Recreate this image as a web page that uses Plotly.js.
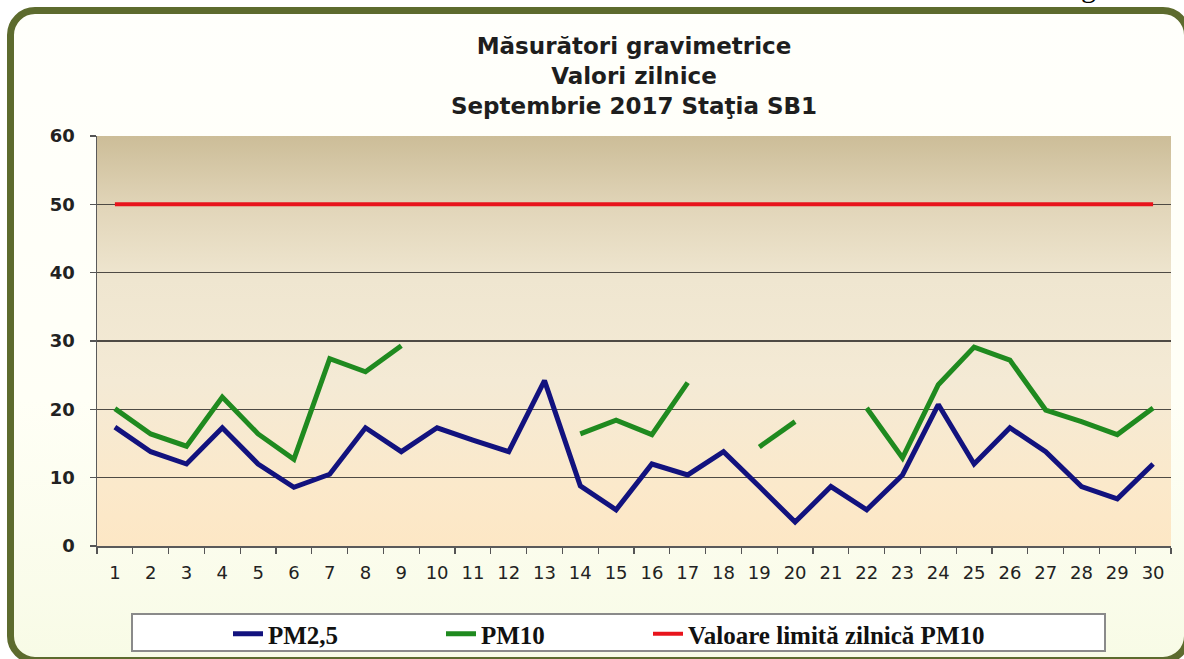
<!DOCTYPE html>
<html>
<head>
<meta charset="utf-8">
<script src="https://cdn.plot.ly/plotly-3.0.1.min.js"></script>
<style>
  html, body { margin: 0; padding: 0; background: #ffffff; overflow: hidden; }
  #frame {
    position: absolute; left: 7px; top: 7px; width: 1170px; height: 643px;
    border: 7px solid #5d6b2e; border-radius: 28px;
    background: linear-gradient(to bottom, #fffffb 0%, #fffff6 60%, #f8fbe6 100%);
  }
  #plotbg {
    position: absolute; left: 97px; top: 136px; width: 1074px; height: 410px;
    background: linear-gradient(to bottom, #ccbd98 0%, #e2d6ba 18%, #efe6d0 35%, #f4ead5 60%, #fbe9cb 85%, #fde7c5 100%);
  }
  #chart { position: absolute; left: 0; top: 0; width: 1184px; height: 659px; }
</style>
</head>
<body>
<div id="frame"></div>
<div id="plotbg"></div>
<div id="chart"></div>
<script>
const days = [1,2,3,4,5,6,7,8,9,10,11,12,13,14,15,16,17,18,19,20,21,22,23,24,25,26,27,28,29,30];
const pm25 = [17.4,13.8,12.0,17.3,12.0,8.6,10.5,17.3,13.8,17.3,15.5,13.8,24.2,8.8,5.3,12.0,10.4,13.8,8.7,3.5,8.7,5.3,10.4,20.7,12.0,17.3,13.8,8.7,6.9,12.0];
const pm10 = [20.1,16.4,14.6,21.8,16.4,12.7,27.4,25.5,29.3,null,null,null,null,16.4,18.4,16.3,23.9,null,14.5,18.2,null,20.2,12.9,23.6,29.1,27.2,19.9,18.2,16.3,20.2];
const limit = [50,50,50,50,50,50,50,50,50,50,50,50,50,50,50,50,50,50,50,50,50,50,50,50,50,50,50,50,50,50];
const names = ["PM2,5", "PM10", "Valoare limită zilnică PM10"];
const titleLines = ["Măsurători gravimetrice", "Valori zilnice", "Septembrie 2017 Staţia SB1"];

const L = 97, T = 136, W = 1074, H = 410;
const px2x = p => (p - L) / W;
const px2y = p => (T + H - p) / H;

const traces = [
  {x: days, y: pm25, name: names[0], type: 'scatter', mode: 'lines', legend: 'legend',
   line: {color: '#12127e', width: 5}},
  {x: days, y: pm10, name: names[1], type: 'scatter', mode: 'lines', connectgaps: false, legend: 'legend2',
   line: {color: '#1f8a1f', width: 5}},
  {x: days, y: limit, name: names[2], type: 'scatter', mode: 'lines', legend: 'legend3',
   line: {color: '#e8141c', width: 4}}
];

function legendAt(pxLeft) {
  return {
    orientation: 'h', x: px2x(pxLeft), xanchor: 'left', y: px2y(634), yanchor: 'middle',
    bgcolor: 'rgba(0,0,0,0)', borderwidth: 0,
    font: {family: 'Liberation Serif', size: 25, color: '#111', weight: 'bold'},
    itemclick: false
  };
}

const layout = {
  width: 1184, height: 659,
  margin: {l: L, r: 1184 - L - W, t: T, b: 659 - T - H, autoexpand: false},
  paper_bgcolor: 'rgba(0,0,0,0)',
  plot_bgcolor: 'rgba(0,0,0,0)',
  title: {
    text: titleLines.join('<br>'),
    font: {family: 'DejaVu Sans', size: 23, color: '#1e1e1e', weight: 'bold'},
    x: 0.5, xanchor: 'center', xref: 'paper',
    yref: 'container', y: 1 - 54 / 659, yanchor: 'middle'
  },
  showlegend: true,
  legend: legendAt(228),
  legend2: legendAt(441),
  legend3: legendAt(648),
  xaxis: {
    type: 'linear', range: [0.5, 30.5], tickmode: 'array', tickvals: days,
    ticktext: days.map(String), ticks: '', showgrid: false, zeroline: false,
    showline: true, linecolor: '#5a5a5a', linewidth: 1.5,
    tickfont: {family: 'DejaVu Sans', size: 18, color: '#222'},
    ticklabelstandoff: 10,
    minor: {tickmode: 'linear', tick0: 0.5, dtick: 1, ticks: 'outside', ticklen: 6,
            tickcolor: '#555', tickwidth: 1.2, showgrid: false}
  },
  yaxis: {
    range: [0, 60], tickmode: 'linear', tick0: 0, dtick: 10,
    ticks: 'outside', ticklen: 6, tickcolor: '#555', tickwidth: 1.2,
    showgrid: true, gridcolor: '#4e4a44', gridwidth: 1.2, zeroline: false,
    showline: true, linecolor: '#5a5a5a', linewidth: 1.5,
    tickfont: {family: 'DejaVu Sans', size: 18, color: '#222', weight: 'bold'},
    ticklabelstandoff: 11
  },
  shapes: [
    {type: 'rect', xref: 'paper', yref: 'paper', layer: 'below',
     x0: px2x(132), x1: px2x(1105), y0: px2y(651), y1: px2y(614),
     fillcolor: '#ffffff', line: {color: '#8a8a8a', width: 2}}
  ],
  annotations: [
    {text: 'g', xref: 'paper', yref: 'paper', x: px2x(1088), y: px2y(5),
     xanchor: 'center', yanchor: 'bottom', showarrow: false,
     font: {family: 'Liberation Serif', size: 30, color: '#000'}}
  ]
};

Plotly.newPlot('chart', traces, layout, {displayModeBar: false, staticPlot: true});
</script>
</body>
</html>
